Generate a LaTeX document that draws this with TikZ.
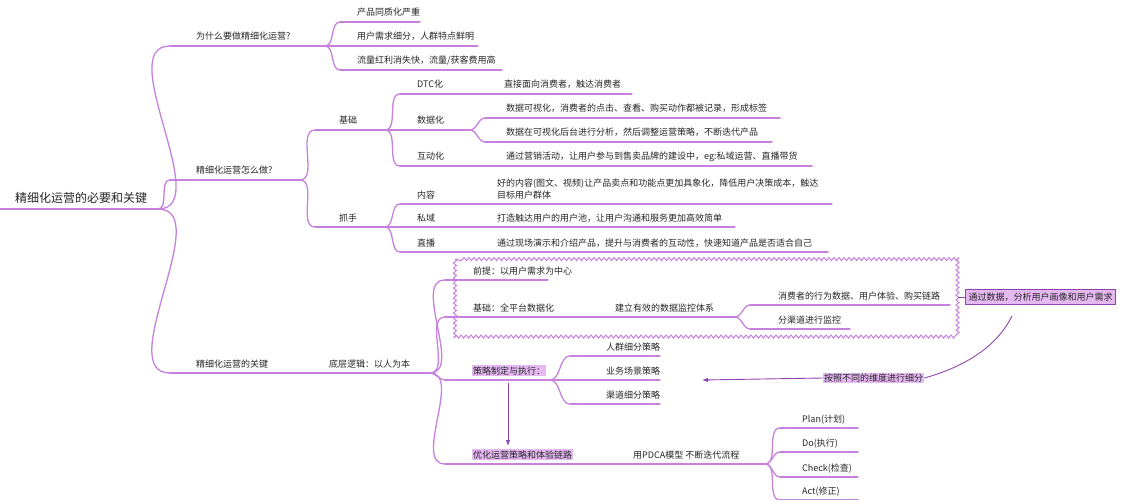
\documentclass[tikz,border=0pt]{standalone}
\usepackage{fontspec}
\setmainfont{Noto Sans CJK SC}
\usetikzlibrary{arrows.meta,decorations.pathmorphing,positioning}
\definecolor{mline}{HTML}{C680DE}
\definecolor{mdark}{HTML}{8E44AD}
\definecolor{mfill}{HTML}{E6B8F2}
\tikzset{
  txt/.style={anchor=base west,inner sep=1pt,font=\fontsize{9}{11}\selectfont,text=black!85},
  hl/.style={txt,fill=mfill},
  ul/.style={draw=mline,line width=1.3pt,line cap=round},
  br/.style={draw=mline,line width=1.3pt,out=0,in=180,looseness=0.9}
}
% \topic{name}{x start}{x end}{underline y}{text x}{text}
\newcommand{\topic}[7][txt]{
  \coordinate (#2-s) at (#3,#5);
  \coordinate (#2-e) at (#4,#5);
  \draw[ul] (#2-s) -- (#2-e);
  \node[#1] (#2) at (#6,#5-6) {#7};
}
\newcommand{\branch}[2]{\draw[br] (#1-e) to (#2-s);}
\begin{document}
\begin{tikzpicture}[x=1pt,y=-1pt]
\useasboundingbox (0,0) rectangle (1130,500);
% wavy frame
\draw[mline,line width=1pt,decorate,decoration={snake,amplitude=1.5pt,segment length=5pt}]
  (455,259) rectangle (958,336);
% root
\coordinate (root-s) at (0,209);
\coordinate (root-e) at (158,209);
\draw[ul] (root-s) -- (root-e);
\node[txt,font=\fontsize{12}{14}\selectfont] (root) at (14,202) {精细化运营的必要和关键};
% why
\topic{why}{170}{325}{46}{195}{为什么要做精细化运营?}
\topic{w1}{340}{420}{22}{356}{产品同质化严重}
\topic{w2}{340}{478}{46}{356}{用户需求细分，人群特点鲜明}
\topic{w3}{340}{502}{70}{356}{流量红利消失快，流量/获客费用高}
% how
\topic{how}{170}{300}{180}{195}{精细化运营怎么做?}
\topic{base}{315}{385}{130}{338}{基础}
\topic{dtc}{400}{470}{94}{416}{DTC化}
\topic{dtc1}{485}{632}{94}{503}{直接面向消费者，触达消费者}
\topic{dat}{400}{470}{130}{416}{数据化}
\topic{dat1}{485}{780}{118}{505}{数据可视化，消费者的点击、查看、购买动作都被记录，形成标签}
\topic{dat2}{485}{772}{142}{505}{数据在可视化后台进行分析，然后调整运营策略，不断迭代产品}
\topic{int}{400}{470}{166}{416}{互动化}
\topic{int1}{485}{812}{166}{505}{通过营销活动，让用户参与到售卖品牌的建设中，eg:私域运营、直播带货}
\topic{grip}{315}{385}{227}{338}{抓手}
\topic{con}{400}{470}{204}{416}{内容}
\topic{con1}{485}{832}{204}{496}{目标用户群体}
\node[txt] (con1b) at (496,186) {好的内容(图文、视频)让产品卖点和功能点更加具象化，降低用户决策成本，触达};
\topic{pri}{400}{470}{227}{416}{私域}
\topic{pri1}{485}{735}{227}{496}{打造触达用户的用户池，让用户沟通和服务更加高效简单}
\topic{liv}{400}{470}{252}{416}{直播}
\topic{liv1}{485}{828}{252}{496}{通过现场演示和介绍产品，提升与消费者的互动性，快速知道产品是否适合自己}
% key
\topic{key}{170}{300}{373}{195}{精细化运营的关键}
\topic{logic}{315}{430}{373}{328}{底层逻辑：以人为本}
\topic{pre}{445}{548}{280}{472}{前提：以用户需求为中心}
\topic{plat}{445}{600}{317}{472}{基础：全平台数据化}
\topic{mon}{600}{735}{317}{614}{建立有效的数据监控体系}
\topic{mon1}{750}{950}{305}{777}{消费者的行为数据、用户体验、购买链路}
\topic{mon2}{750}{850}{329}{777}{分渠道进行监控}
\topic[hl]{str}{445}{550}{380}{472}{策略制定与执行：}
\topic{s1}{570}{660}{356}{605}{人群细分策略}
\topic{s2}{570}{660}{380}{605}{业务场景策略}
\topic{s3}{570}{660}{404}{605}{渠道细分策略}
\topic[hl]{opt}{445}{590}{464}{472}{优化运营策略和体验链路}
\topic{pdca}{590}{765}{464}{632}{用PDCA模型 不断迭代流程}
\topic{p1}{780}{858}{428}{801}{Plan(计划)}
\topic{p2}{780}{858}{452}{801}{Do(执行)}
\topic{p3}{780}{858}{477}{801}{Check(检查)}
\topic{p4}{780}{858}{500}{801}{Act(修正)}
% branches
\foreach \a/\b in {root/why,root/how,root/key,why/w1,why/w2,why/w3,
  how/base,how/grip,base/dtc,base/dat,base/int,dtc/dtc1,dat/dat1,dat/dat2,int/int1,
  grip/con,grip/pri,grip/liv,con/con1,pri/pri1,liv/liv1,key/logic,
  logic/pre,logic/plat,logic/str,logic/opt,plat/mon,mon/mon1,mon/mon2,
  str/s1,str/s2,str/s3,opt/pdca,pdca/p1,pdca/p2,pdca/p3,pdca/p4}
  {\branch{\a}{\b}}
% callouts
\node[txt,fill=mfill,draw=mdark,line width=1.2pt,inner sep=3pt,anchor=west] (note) at (965,297) {通过数据，分析用户画像和用户需求};
\draw[mdark,line width=1pt] (958,297) -- (note.west);
\node[txt,fill=mfill,anchor=west] (dim) at (823,378) {按照不同的维度进行细分};
\draw[mdark,line width=0.9pt] (1012,316) .. controls (995,350) and (960,368) .. (dim.east);
\draw[mdark,line width=0.9pt,-{Latex[length=6pt]}] (dim.west) -- (702,380);
\draw[mdark,line width=0.9pt,-{Latex[length=6pt]}] (508,383) -- (508,446);
\end{tikzpicture}
\end{document}
